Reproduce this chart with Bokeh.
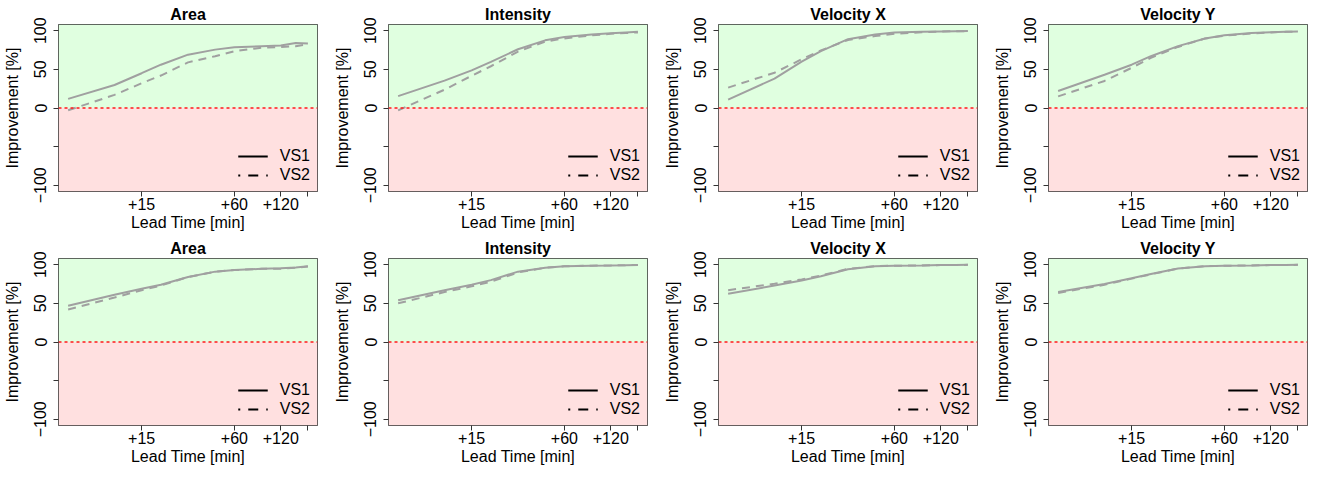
from bokeh.plotting import figure
from bokeh.layouts import gridplot
from bokeh.models import Range1d, FixedTicker, BoxAnnotation, Span, Legend, LegendItem
from bokeh.embed import file_html
from bokeh.resources import INLINE

lead_time = [5, 10, 15, 20, 30, 45, 60, 90, 120, 150, 180]

titles = ["Area", "Intensity", "Velocity X", "Velocity Y",
          "Area", "Intensity", "Velocity X", "Velocity Y"]

area1_vs1 = [11.8, 29.7, 45, 56, 69, 75.5, 78.5, 80, 80.8, 84, 83.5]
area1_vs2 = [-3, 17, 32, 42, 59, 67, 73.5, 78, 79, 80, 82.5]
intensity1_vs1 = [15.4, 35.4, 48.7, 59.6, 76, 87.5, 91.7, 95, 96.7, 97.8, 98.7]
intensity1_vs2 = [-3, 23.7, 41.7, 54, 73, 86, 90, 94, 96, 97, 97.8]
velx1_vs1 = [10.9, 38, 60, 73.6, 89, 95, 97.5, 98.5, 99, 99.3, 99.5]
velx1_vs2 = [26.4, 45.6, 63, 74.5, 88, 93, 96, 98, 99, 99.2, 99.5]
vely1_vs1 = [22, 43, 56, 67, 80, 90, 94, 97, 98, 98.7, 99]
vely1_vs2 = [15, 35, 52, 65, 79, 90, 93.5, 96.5, 97.8, 98.5, 99]

area2_vs1 = [47, 61, 69, 74, 84, 91, 93, 94.6, 95.4, 96.5, 98]
area2_vs2 = [42, 57.5, 67, 73, 84, 91, 93, 94.6, 94.8, 96, 97.5]
intensity2_vs1 = [54, 67, 74, 80, 91, 96, 98, 98.7, 99, 99.3, 99.6]
intensity2_vs2 = [50, 64.6, 72, 78, 90, 96, 98, 98.7, 99, 99.3, 99.6]
velx2_vs1 = [62.5, 73, 79.6, 85, 94, 98, 98.7, 99, 99.5, 99.6, 99.8]
velx2_vs2 = [67, 75.4, 81, 86, 94.6, 98, 98.7, 99, 99.5, 99.6, 99.8]
vely2_vs1 = [64.6, 75, 82.5, 88, 95, 98, 98.7, 99, 99.5, 99.6, 99.8]
vely2_vs2 = [63.5, 74, 82, 87.5, 95, 98, 98.7, 99, 99.5, 99.6, 99.8]

vs1_series = [area1_vs1, intensity1_vs1, velx1_vs1, vely1_vs1,
              area2_vs1, intensity2_vs1, velx2_vs1, vely2_vs1]
vs2_series = [area1_vs2, intensity1_vs2, velx1_vs2, vely1_vs2,
              area2_vs2, intensity2_vs2, velx2_vs2, vely2_vs2]

x_ticks = [15, 60, 120, 180]
x_tick_labels = {15: "+15", 60: "+60", 120: "+120", 180: ""}
y_ticks = [-100, -50, 0, 50, 100]
y_tick_labels = {-100: "\u2212100", -50: "", 0: "0", 50: "50", 100: "100"}

FONT = "Liberation Sans"
LINE_COLOR = "#a0a0a0"

figs = []
for i in range(8):
    p = figure(width=330, height=234, x_axis_type="log",
               output_backend="svg", toolbar_location=None,
               min_border_left=57, min_border_right=13,
               min_border_top=24, min_border_bottom=43,
               title=titles[i])
    p.x_range = Range1d(4.33, 207.7)
    p.y_range = Range1d(-108, 108)
    p.xgrid.visible = False
    p.ygrid.visible = False
    p.background_fill_color = "white"
    p.outline_line_color = "#333333"
    p.outline_line_width = 1
    p.border_fill_color = "white"

    p.title.align = "center"
    p.title.text_font = FONT
    p.title.text_font_size = "16px"
    p.title.text_font_style = "bold"
    p.title.text_color = "black"
    p.title.standoff = 4

    p.add_layout(BoxAnnotation(bottom=0, fill_color="#e0ffe0", fill_alpha=1,
                               line_color=None, level="underlay"))
    p.add_layout(BoxAnnotation(top=0, fill_color="#ffe0e0", fill_alpha=1,
                               line_color=None, level="underlay"))
    p.add_layout(Span(location=0, dimension="width", line_color="#ff1a1a",
                      line_dash="3 3", line_width=1.4))

    xa = p.xaxis[0]
    xa.ticker = FixedTicker(ticks=x_ticks, minor_ticks=[])
    xa.major_label_overrides = x_tick_labels
    xa.axis_label = "Lead Time [min]"
    ya = p.yaxis[0]
    ya.ticker = FixedTicker(ticks=y_ticks, minor_ticks=[])
    ya.major_label_overrides = y_tick_labels
    ya.major_label_orientation = "vertical"
    ya.axis_label = "Improvement [%]"
    for ax in (xa, ya):
        ax.axis_line_color = None
        ax.major_tick_out = 5
        ax.major_tick_in = 0
        ax.minor_tick_out = 0
        ax.minor_tick_in = 0
        ax.major_tick_line_color = "#333333"
        ax.major_label_text_font = FONT
        ax.major_label_text_font_size = "16px"
        ax.major_label_text_color = "black"
        ax.axis_label_text_font = FONT
        ax.axis_label_text_font_size = "16px"
        ax.axis_label_text_font_style = "normal"
        ax.axis_label_text_color = "black"
    xa.major_label_standoff = 1
    xa.axis_label_standoff = 1
    ya.major_label_standoff = 7
    ya.axis_label_standoff = 11

    # legend key renderers (hidden; black like the reference legend keys)
    k1 = p.line(lead_time, vs1_series[i], line_color="black", line_width=2, visible=False)
    k2 = p.line(lead_time, vs2_series[i], line_color="black", line_width=2,
                line_dash="10 8", line_dash_offset=8, visible=False)

    p.line(lead_time, vs1_series[i], line_color=LINE_COLOR, line_width=2)
    p.line(lead_time, vs2_series[i], line_color=LINE_COLOR, line_width=2, line_dash="8 6")

    leg = Legend(items=[LegendItem(label="VS1", renderers=[k1]),
                        LegendItem(label="VS2", renderers=[k2])],
                 location="bottom_right")
    leg.background_fill_alpha = 0
    leg.border_line_alpha = 0
    leg.label_text_font = FONT
    leg.label_text_font_size = "16px"
    leg.label_text_color = "black"
    leg.glyph_width = 30
    leg.glyph_height = 18
    leg.label_height = 18
    leg.label_standoff = 12
    leg.spacing = 1
    leg.padding = 7
    leg.margin = 0
    p.add_layout(leg)
    figs.append(p)

grid = gridplot(figs, ncols=4, toolbar_location=None)
open("out.html", "w").write(file_html(grid, INLINE))
